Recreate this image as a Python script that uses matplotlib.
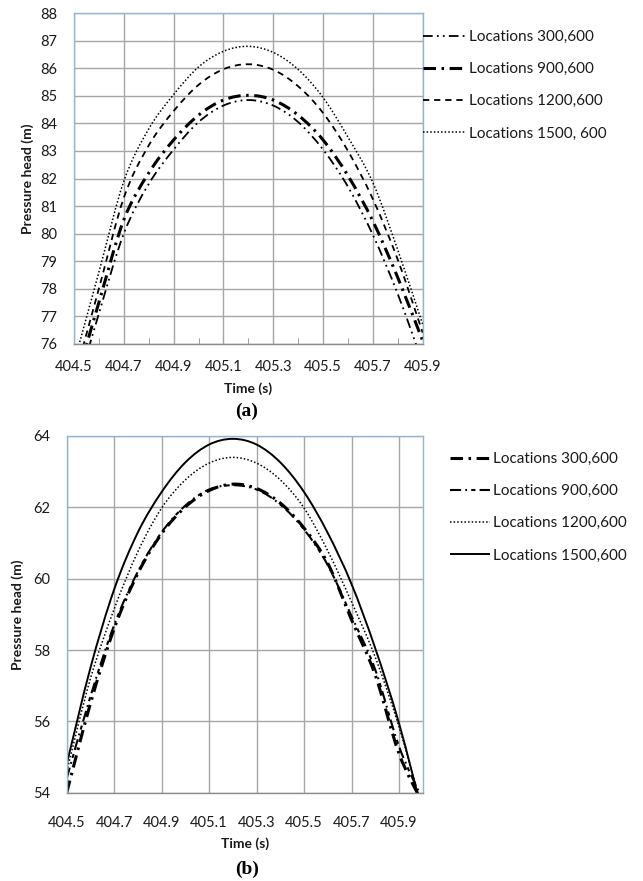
import matplotlib
matplotlib.use("Agg")
import matplotlib.pyplot as plt
from matplotlib.ticker import MultipleLocator, FixedLocator
from matplotlib.path import Path
from matplotlib.patches import PathPatch
from matplotlib.lines import Line2D

plt.rcParams['font.family'] = ['Lato', 'DejaVu Sans']
plt.rcParams['lines.scale_dashes'] = False

# ---------------- data (a) ----------------
time_a = [404.5, 404.6, 404.7, 404.8, 404.9, 405.0, 405.1, 405.2,
          405.3, 405.4, 405.5, 405.6, 405.7, 405.8, 405.9]
a_300_600 = [74.0, 77.1, 80.0, 81.8, 83.05, 84.05, 84.65, 84.85,
             84.65, 84.05, 83.05, 81.7, 79.95, 77.8, 75.3]
a_900_600 = [74.4, 77.5, 80.5, 82.2, 83.4, 84.3, 84.85, 85.02,
             84.85, 84.3, 83.4, 82.1, 80.45, 78.4, 76.1]
a_1200_600 = [74.7, 78.0, 81.3, 83.2, 84.45, 85.4, 85.97, 86.15,
              85.95, 85.35, 84.38, 83.0, 81.25, 79.05, 76.4]
a_1500_600 = [75.3, 78.6, 81.9, 83.8, 85.05, 86.05, 86.62, 86.8,
              86.58, 85.96, 84.94, 83.5, 81.85, 79.4, 76.7]
labels_a = ["Locations 300,600", "Locations 900,600",
            "Locations 1200,600", "Locations 1500, 600"]
xticks_a = [404.5, 404.7, 404.9, 405.1, 405.3, 405.5, 405.7, 405.9]
yticks_a = [76, 77, 78, 79, 80, 81, 82, 83, 84, 85, 86, 87, 88]

# ---------------- data (b) ----------------
time_b = [404.5, 404.6, 404.7, 404.8, 404.9, 405.0, 405.1, 405.2,
          405.3, 405.4, 405.5, 405.6, 405.7, 405.8, 405.9, 406.0]
b_300_600 = [54.0, 56.5, 58.6, 60.15, 61.26, 62.01, 62.47, 62.65,
             62.53, 62.12, 61.42, 60.43, 58.85, 57.3, 55.1, 53.7]
b_900_600 = [54.4, 56.7, 58.7, 60.2, 61.3, 62.05, 62.5, 62.62,
             62.5, 62.08, 61.38, 60.38, 58.95, 57.45, 55.3, 53.8]
b_1200_600 = [54.6, 57.2, 59.15, 60.76, 61.98, 62.77, 63.24, 63.4,
              63.24, 62.77, 61.98, 60.78, 59.35, 57.8, 55.85, 53.5]
b_1500_600 = [54.8, 57.5, 59.7, 61.3, 62.43, 63.26, 63.76, 63.92,
              63.76, 63.26, 62.43, 61.28, 59.85, 58.05, 55.95, 53.4]
labels_b = ["Locations 300,600", "Locations 900,600",
            "Locations 1200,600", "Locations 1500,600"]
xticks_b = [404.5, 404.7, 404.9, 405.1, 405.3, 405.5, 405.7, 405.9]
yticks_b = [54, 56, 58, 60, 62, 64]

# ---------------- styles ----------------
styles_a = [dict(lw=1.3, dashes=(7, 3, 1.3, 3, 1.3, 3)),
            dict(lw=2.2, dashes=(9, 4, 1.8, 4)),
            dict(lw=1.3, dashes=(4.5, 3.5)),
            dict(lw=1.1, dashes=(1.1, 1.5))]
styles_b = [dict(lw=2.2, dashes=(9, 4, 1.8, 4)),
            dict(lw=1.5, dashes=(8, 3, 1.3, 3, 3, 3)),
            dict(lw=1.1, dashes=(1.1, 1.5)),
            dict(lw=1.4, dashes=None)]

W, H = 643, 881
fig = plt.figure(figsize=(W / 100, H / 100), dpi=100)

def px_axes(l, t, r, b):
    return [l / W, 1 - b / H, (r - l) / W, (b - t) / H]

ax1 = fig.add_axes(px_axes(74, 13.3, 422.7, 343.7))
ax2 = fig.add_axes(px_axes(66.7, 436, 422.7, 792.7))

GRID = '#a6a6a6'
BORDER = '#95b3d7'
TXT = '#1a1a1a'

def style_axes(ax, xlim, ylim, xt, yt, minor, xpad):
    ax.set_xlim(*xlim)
    ax.set_ylim(*ylim)
    ax.xaxis.set_major_locator(FixedLocator(xt))
    ax.yaxis.set_major_locator(FixedLocator(yt))
    ax.set_xticklabels([f"{v:.1f}" for v in xt])
    ax.set_yticklabels([f"{v:d}" for v in yt])
    ax.grid(True, color=GRID, lw=1.0)
    ax.set_axisbelow(True)
    for s in ['top', 'right', 'left']:
        ax.spines[s].set_color(BORDER)
        ax.spines[s].set_linewidth(1.0)
    ax.spines['bottom'].set_color('#8c8c8c')
    ax.spines['bottom'].set_linewidth(1.0)
    ax.tick_params(axis='both', length=0, labelsize=10.5, colors=TXT)
    ax.tick_params(axis='y', pad=12)
    ax.tick_params(axis='x', pad=xpad)
    if minor:
        ax.xaxis.set_minor_locator(MultipleLocator(0.1))
        ax.tick_params(axis='x', which='minor', direction='in', length=4,
                       color='#8c8c8c')
    ax.set_ylabel("Pressure head (m)", fontsize=10, fontweight='bold',
                  color=TXT)
    ax.set_xlabel("Time (s)", fontsize=10, fontweight='bold', color=TXT)

style_axes(ax1, (404.5, 405.9), (76, 88), xticks_a, yticks_a, True, 12)
style_axes(ax2, (404.5, 406.0), (54, 64), xticks_b, yticks_b, False, 17)
ax1.xaxis.labelpad = 6
ax2.xaxis.labelpad = 5
ax1.yaxis.set_label_coords(-0.116, 0.5)
ax2.yaxis.set_label_coords(-0.121, 0.5)


def smooth_path(x, y):
    """Excel-style smoothed line: cubic Bezier through every data point."""
    n = len(x)
    verts = [(x[0], y[0])]
    codes = [Path.MOVETO]
    for i in range(n - 1):
        i0 = max(i - 1, 0)
        i3 = min(i + 2, n - 1)
        c1 = (x[i] + (x[i + 1] - x[i0]) / 6, y[i] + (y[i + 1] - y[i0]) / 6)
        c2 = (x[i + 1] - (x[i3] - x[i]) / 6, y[i + 1] - (y[i3] - y[i]) / 6)
        verts += [c1, c2, (x[i + 1], y[i + 1])]
        codes += [Path.CURVE4] * 3
    return Path(verts, codes)


def draw_series(ax, t, series, labels, styles):
    handles = []
    for vals, lab, st in zip(series, labels, styles):
        ls = '-' if st['dashes'] is None else (0, st['dashes'])
        patch = PathPatch(smooth_path(t, vals), fill=False, edgecolor='black',
                          lw=st['lw'], ls=ls, transform=ax.transData)
        patch.set_capstyle('butt')
        ax.add_patch(patch)
        h = Line2D([], [], color='black', lw=st['lw'], label=lab,
                   solid_capstyle='butt', dash_capstyle='butt')
        if st['dashes'] is not None:
            h.set_dashes(st['dashes'])
        handles.append(h)
    return handles

h1 = draw_series(ax1, time_a, [a_300_600, a_900_600, a_1200_600, a_1500_600],
                 labels_a, styles_a)
h2 = draw_series(ax2, time_b, [b_300_600, b_900_600, b_1200_600, b_1500_600],
                 labels_b, styles_b)

leg1 = ax1.legend(handles=h1, loc='upper left',
                  bbox_to_anchor=(423 / W, 1 - 30 / H),
                  bbox_transform=fig.transFigure, frameon=False, fontsize=11,
                  handlelength=2.8, handletextpad=0.2, labelspacing=1.19,
                  borderpad=0, borderaxespad=0)
leg2 = ax2.legend(handles=h2, loc='upper left',
                  bbox_to_anchor=(450 / W, 1 - 452 / H),
                  bbox_transform=fig.transFigure, frameon=False, fontsize=11,
                  handlelength=2.6, handletextpad=0.2, labelspacing=1.19,
                  borderpad=0, borderaxespad=0)
for leg in (leg1, leg2):
    for t in leg.get_texts():
        t.set_color(TXT)

fig.text(246.7 / W, 1 - 411 / H, "(a)", ha='center', va='center',
         fontsize=14, fontweight='bold', family='Liberation Serif')
fig.text(246.7 / W, 1 - 869 / H, "(b)", ha='center', va='center',
         fontsize=14, fontweight='bold', family='Liberation Serif')

fig.savefig("out.png", dpi=100, facecolor='white')
